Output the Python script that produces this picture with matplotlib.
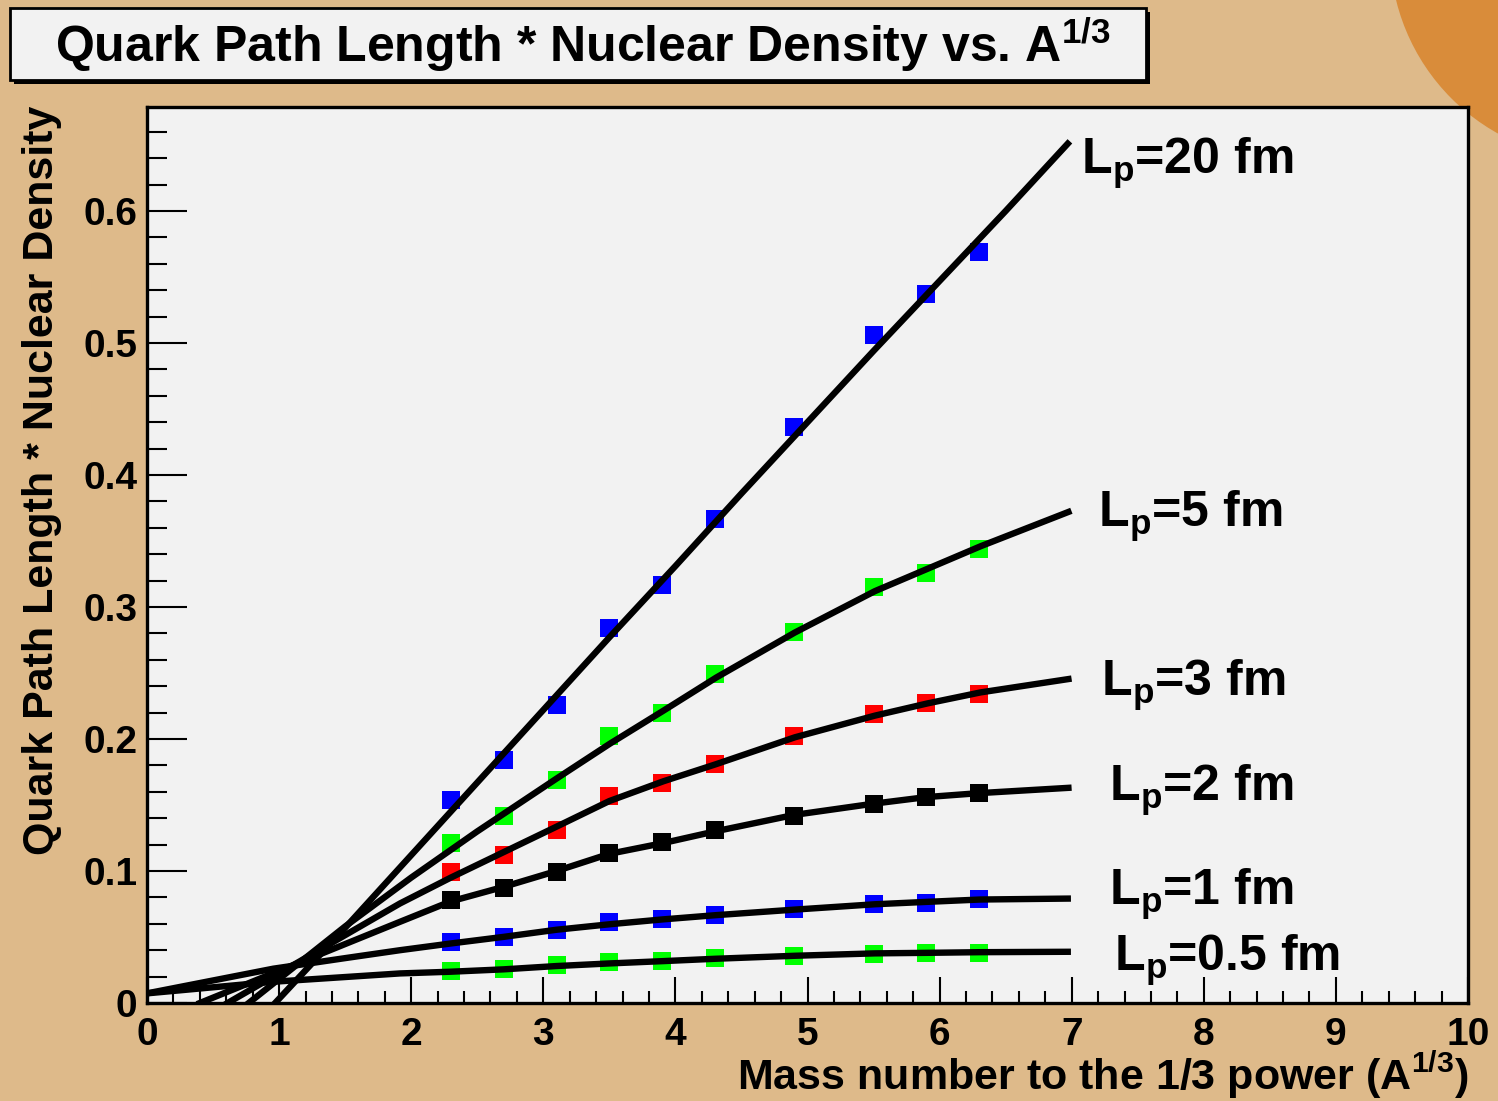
import matplotlib
matplotlib.use('Agg')
import matplotlib.pyplot as plt
from matplotlib.patches import Rectangle, Circle
from matplotlib.ticker import MultipleLocator, FuncFormatter

plt.rcParams['font.family'] = ['Liberation Sans', 'DejaVu Sans']
plt.rcParams['font.weight'] = 'bold'
plt.rcParams['mathtext.fontset'] = 'custom'
plt.rcParams['mathtext.rm'] = 'Liberation Sans:bold'
plt.rcParams['mathtext.it'] = 'Liberation Sans:bold'
plt.rcParams['mathtext.bf'] = 'Liberation Sans:bold'
plt.rcParams['mathtext.default'] = 'rm'

# ---------------- data ----------------
a_third = [2.3, 2.7, 3.1, 3.5, 3.9, 4.3, 4.9, 5.5, 5.9, 6.3]

pts_lp20 = [0.154, 0.184, 0.226, 0.284, 0.317, 0.367, 0.436, 0.506, 0.537, 0.569]
pts_lp5 = [0.121, 0.142, 0.169, 0.202, 0.220, 0.249, 0.281, 0.315, 0.326, 0.344]
pts_lp3 = [0.099, 0.112, 0.131, 0.157, 0.167, 0.181, 0.202, 0.219, 0.227, 0.234]
pts_lp2 = [0.078, 0.087, 0.099, 0.114, 0.122, 0.131, 0.142, 0.151, 0.156, 0.159]
pts_lp1 = [0.046, 0.050, 0.055, 0.061, 0.064, 0.067, 0.071, 0.075, 0.076, 0.079]
pts_lp05 = [0.024, 0.026, 0.029, 0.031, 0.032, 0.034, 0.0355, 0.037, 0.038, 0.038]

marker_colors = ['#0000FF', '#00FF00', '#FF0000', '#000000', '#0000FF', '#00FF00']

# curves
curve_lp20_x = [0.97, 1.5, 2.0, 2.5, 3.0, 3.5, 4.0, 4.5, 5.0, 5.5, 6.0, 6.5, 6.97]
curve_lp20_y = [0.0, 0.057, 0.112, 0.167, 0.222, 0.277, 0.331, 0.386, 0.440, 0.494, 0.547, 0.600, 0.651]

curve_lp5_x = [0.77, 1.5, 2.0, 2.5, 3.1, 3.505, 3.91, 4.31, 4.905, 5.51, 5.91, 6.31, 6.975]
curve_lp5_y = [0.0, 0.058, 0.095, 0.130, 0.170, 0.1965, 0.2215, 0.2466, 0.2807, 0.312, 0.329, 0.346, 0.372]

curve_lp3_x = [0.61, 1.915, 2.3, 3.15, 3.5, 3.91, 4.31, 4.905, 5.51, 5.91, 6.31, 6.975]
curve_lp3_y = [0.0, 0.0754, 0.095, 0.136, 0.153, 0.168, 0.181, 0.2013, 0.2177, 0.227, 0.2353, 0.2454]

curve_lp2_x = [0.40, 1.915, 2.3, 2.7, 3.1, 3.5, 3.9, 4.3, 4.9, 5.5, 5.9, 6.3, 6.975]
curve_lp2_y = [0.0, 0.0615, 0.077, 0.088, 0.100, 0.113, 0.121, 0.130, 0.1425, 0.151, 0.156, 0.159, 0.163]

curve_lp1_x = [0.0, 0.956, 1.5, 1.915, 2.3, 2.7, 3.1, 3.507, 3.9, 4.3, 4.91, 5.51, 5.9, 6.31, 6.97]
curve_lp1_y = [0.0073, 0.026, 0.034, 0.040, 0.0451, 0.0501, 0.0555, 0.0597, 0.0633, 0.0665, 0.0708, 0.0748, 0.0766, 0.0784, 0.0791]

curve_lp05_x = [0.0, 0.956, 1.915, 2.3, 2.7, 3.1, 3.507, 3.9, 4.3, 4.91, 5.51, 5.9, 6.31, 6.97]
curve_lp05_y = [0.0073, 0.0161, 0.0224, 0.0237, 0.0255, 0.028, 0.030, 0.0317, 0.0335, 0.0358, 0.0376, 0.038, 0.0385, 0.0388]

label_texts = ['L$_\\mathrm{p}$=20 fm', 'L$_\\mathrm{p}$=5 fm', 'L$_\\mathrm{p}$=3 fm',
               'L$_\\mathrm{p}$=2 fm', 'L$_\\mathrm{p}$=1 fm', 'L$_\\mathrm{p}$=0.5 fm']
label_x = [7.07, 7.20, 7.22, 7.28, 7.28, 7.32]
label_y = [0.628, 0.361, 0.233, 0.153, 0.074, 0.0244]

title_text = 'Quark Path Length * Nuclear Density vs. A$^{\\mathrm{1/3}}$'
xlabel_text = 'Mass number to the 1/3 power (A$^{\\mathrm{1/3}}$)'
ylabel_text = 'Quark Path Length * Nuclear Density'

# ---------------- styling ----------------
W, H = 1498, 1101
tan = '#DEBA8A'
orange = '#D98C3A'
panel = '#F2F2F2'

fig = plt.figure(figsize=(W / 100, H / 100), dpi=100, facecolor=tan)

bg = fig.add_axes([0, 0, 1, 1], zorder=0)
bg.set_xlim(0, W)
bg.set_ylim(H, 0)
bg.axis('off')
bg.add_patch(Circle((1600, -50), 210, fc=orange, ec='none'))
# title box with shadow
bg.add_patch(Rectangle((14, 12), 1136, 72, fc='black', ec='none'))
bg.add_patch(Rectangle((10, 8), 1136, 72, fc=panel, ec='black', lw=2))
bg.text(55, 62, title_text, fontsize=36, fontweight='bold', ha='left', va='baseline')
bg.text(1468, 1090, xlabel_text, fontsize=31, fontweight='bold', ha='right', va='baseline')
bg.text(42, 480, ylabel_text, fontsize=31, fontweight='bold', rotation=90,
        ha='center', va='center')

x0, x1, yb, yt = 147, 1468, 1003, 107
ax = fig.add_axes([x0 / W, (H - yb) / H, (x1 - x0) / W, (yb - yt) / H], zorder=1)
ax.set_facecolor(panel)
ax.set_xlim(0, 10)
ax.set_ylim(0, (yb - yt) / 1320.0)

curves = [(curve_lp20_x, curve_lp20_y), (curve_lp5_x, curve_lp5_y), (curve_lp3_x, curve_lp3_y),
          (curve_lp2_x, curve_lp2_y), (curve_lp1_x, curve_lp1_y), (curve_lp05_x, curve_lp05_y)]
points = [pts_lp20, pts_lp5, pts_lp3, pts_lp2, pts_lp1, pts_lp05]

for pts, c in zip(points, marker_colors):
    ax.plot(a_third, pts, linestyle='none', marker='s', ms=12.5, mew=0, color=c, zorder=2)
for cx, cy in curves:
    ax.plot(cx, cy, color='black', lw=4.6, zorder=3, solid_joinstyle='round')

for t, lx, ly in zip(label_texts, label_x, label_y):
    ax.text(lx, ly, t, fontsize=36, fontweight='bold', ha='left', va='baseline', clip_on=False)

ax.xaxis.set_major_locator(MultipleLocator(1))
ax.xaxis.set_minor_locator(MultipleLocator(0.2))
ax.yaxis.set_major_locator(MultipleLocator(0.1))
ax.yaxis.set_minor_locator(MultipleLocator(0.02))
ax.xaxis.set_major_formatter(FuncFormatter(lambda v, p: f'{v:g}'))
ax.yaxis.set_major_formatter(FuncFormatter(lambda v, p: f'{v:g}'))

ax.tick_params(axis='x', which='major', direction='in', length=18.7, width=1.5, pad=10, labelsize=28)
ax.tick_params(axis='x', which='minor', direction='in', length=8.6, width=1.5)
ax.tick_params(axis='y', which='major', direction='in', length=28.8, width=1.5, pad=7, labelsize=28)
ax.tick_params(axis='y', which='minor', direction='in', length=14.4, width=1.5)
ax.tick_params(top=False, right=False, which='both')
for lab in ax.get_xticklabels() + ax.get_yticklabels():
    lab.set_fontweight('bold')
for s in ax.spines.values():
    s.set_linewidth(2.4)

fig.savefig('out.png', dpi=100, facecolor=fig.get_facecolor())
